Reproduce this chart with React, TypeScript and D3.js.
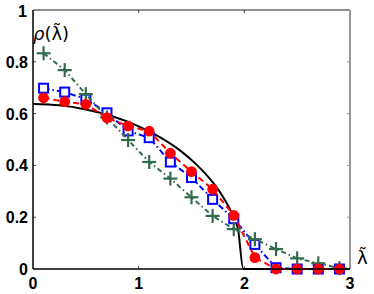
import { useEffect, useRef } from "react";
import * as d3 from "d3";

// sample positions of the histogram bins
const binX = [0.1, 0.3, 0.5, 0.7, 0.9, 1.1, 1.3, 1.5, 1.7, 1.9, 2.1, 2.3, 2.5, 2.7, 2.9];
const redVals = [0.661, 0.646, 0.636, 0.584, 0.552, 0.532, 0.447, 0.376, 0.308, 0.207, 0.044, 0, 0, 0, 0];
const blueVals = [0.698, 0.683, 0.656, 0.603, 0.533, 0.507, 0.413, 0.353, 0.269, 0.194, 0.095, 0.005, 0, 0, 0];
const greenVals = [0.833, 0.768, 0.675, 0.585, 0.498, 0.413, 0.349, 0.277, 0.205, 0.154, 0.115, 0.077, 0.041, 0.022, 0.003];

// theoretical curve
const curveX = [0, 0.25, 0.5, 0.75, 1.0, 1.2, 1.4, 1.55, 1.7, 1.8, 1.88, 1.94, 1.99, 3.0];
const curveY = [0.637, 0.632, 0.616, 0.59, 0.551, 0.509, 0.455, 0.402, 0.335, 0.277, 0.217, 0.155, 0, 0];

const xTicks = [0, 1, 2, 3];
const yTicks = [0, 0.2, 0.4, 0.6, 0.8];
const yTickLabels = ["0", "0.2", "0.4", "0.6", "0.8"];
const yTopLabel = "1";

const W = 374;
const H = 294;

const App = () => {
  const ref = useRef<SVGSVGElement>(null);

  useEffect(() => {
    const svg = d3.select(ref.current);
    svg.selectAll("*").remove();

    const m = { left: 33, right: 350, top: 10, bottom: 269 };
    const x = d3.scaleLinear().domain([0, 3]).range([m.left, m.right]);
    const y = d3.scaleLinear().domain([0, 1]).range([m.bottom, m.top]);

    const font = "'Liberation Sans', Arial, sans-serif";
    const green = "#336b4d";

    // frame
    svg.append("line").attr("x1", m.left).attr("x2", m.right).attr("y1", m.top).attr("y2", m.top)
      .attr("stroke", "#222").attr("stroke-width", 1);
    svg.append("line").attr("x1", m.right).attr("x2", m.right).attr("y1", m.top).attr("y2", m.bottom)
      .attr("stroke", "#999").attr("stroke-width", 2);

    // inward ticks
    const tk = svg.append("g").attr("stroke", "#444").attr("stroke-width", 1);
    xTicks.slice(1, -1).forEach((t) => {
      tk.append("line").attr("x1", x(t)).attr("x2", x(t)).attr("y1", m.bottom).attr("y2", m.bottom - 3);
      tk.append("line").attr("x1", x(t)).attr("x2", x(t)).attr("y1", m.top).attr("y2", m.top + 3);
    });
    yTicks.slice(1).forEach((t) => {
      tk.append("line").attr("x1", m.left).attr("x2", m.left + 3).attr("y1", y(t)).attr("y2", y(t));
      tk.append("line").attr("x1", m.right).attr("x2", m.right - 3).attr("y1", y(t)).attr("y2", y(t))
        .attr("stroke", "#999");
    });

    // tick labels
    xTicks.forEach((t) => {
      svg.append("text").attr("x", x(t)).attr("y", 289).attr("text-anchor", "middle")
        .attr("fill", "#000").attr("font-family", font).attr("font-weight", "bold")
        .attr("font-size", 16).text(String(t));
    });
    yTicks.forEach((t, i) => {
      svg.append("text").attr("x", 28).attr("y", y(t) + 6).attr("text-anchor", "end")
        .attr("fill", "#000").attr("font-family", font).attr("font-weight", "bold")
        .attr("font-size", 16).text(yTickLabels[i]);
    });
    svg.append("text").attr("x", 27).attr("y", y(1) + 7).attr("text-anchor", "end")
      .attr("fill", "#000").attr("font-family", font).attr("font-weight", "bold")
      .attr("font-size", 16).text(yTopLabel);

    // theory curve
    const curvePts = curveX.map((v, i) => [v, curveY[i]] as [number, number]);
    svg.append("path").datum(curvePts)
      .attr("d", d3.line().x((d) => x(d[0])).y((d) => y(d[1])).curve(d3.curveMonotoneX))
      .attr("fill", "none").attr("stroke", "#000").attr("stroke-width", 2);

    const line = d3.line<number>().x((_, i) => x(binX[i])).y((d) => y(d));

    // blue squares
    svg.append("path").datum(blueVals).attr("d", line).attr("fill", "none")
      .attr("stroke", "#0000ff").attr("stroke-width", 2).attr("stroke-dasharray", "6,3,1.5,3");
    svg.selectAll(".sq").data(blueVals).enter().append("rect").attr("class", "sq")
      .attr("x", (_, i) => x(binX[i]) - 4.5).attr("y", (d) => y(d) - 4.5)
      .attr("width", 9).attr("height", 9)
      .attr("fill", "#fff").attr("stroke", "#0000ff").attr("stroke-width", 2);

    // green pluses
    svg.append("path").datum(greenVals).attr("d", line).attr("fill", "none")
      .attr("stroke", green).attr("stroke-width", 2).attr("stroke-dasharray", "5,3,1.5,3");
    const pl = svg.append("g").attr("stroke", green).attr("stroke-width", 2.2);
    greenVals.forEach((v, i) => {
      const cx = x(binX[i]);
      const cy = y(v);
      pl.append("line").attr("x1", cx - 7).attr("x2", cx + 7).attr("y1", cy).attr("y2", cy);
      pl.append("line").attr("x1", cx).attr("x2", cx).attr("y1", cy - 7).attr("y2", cy + 7);
    });

    // red circles
    svg.append("path").datum(redVals).attr("d", line).attr("fill", "none")
      .attr("stroke", "#ff0000").attr("stroke-width", 2).attr("stroke-dasharray", "6,4");
    svg.selectAll(".ci").data(redVals).enter().append("circle").attr("class", "ci")
      .attr("cx", (_, i) => x(binX[i])).attr("cy", (d) => y(d)).attr("r", 5.4)
      .attr("fill", "#ff0000");

    // left and bottom axis lines
    svg.append("line").attr("x1", m.left).attr("x2", m.left).attr("y1", m.top).attr("y2", m.bottom)
      .attr("stroke", "#000").attr("stroke-width", 1.5);
    svg.append("line").attr("x1", m.left).attr("x2", m.right).attr("y1", m.bottom).attr("y2", m.bottom)
      .attr("stroke", "#000").attr("stroke-width", 1.5);

    // axis labels (combining tilde over lambda)
    const lf = "'DejaVu Sans', sans-serif";
    const yl = svg.append("text").attr("x", 33).attr("y", 40)
      .attr("font-family", lf).attr("font-size", 18);
    yl.append("tspan").attr("font-style", "italic").text("ρ");
    yl.append("tspan").text("(\u03BB\u0303)");

    svg.append("text").attr("x", 357).attr("y", 264)
      .attr("font-family", lf).attr("font-size", 18).text("\u03BB\u0303");
  }, []);

  return (
    <svg ref={ref} width={W} height={H}
      style={{ position: "absolute", left: 0, top: 0, background: "#fff" }} />
  );
};

export default App;
